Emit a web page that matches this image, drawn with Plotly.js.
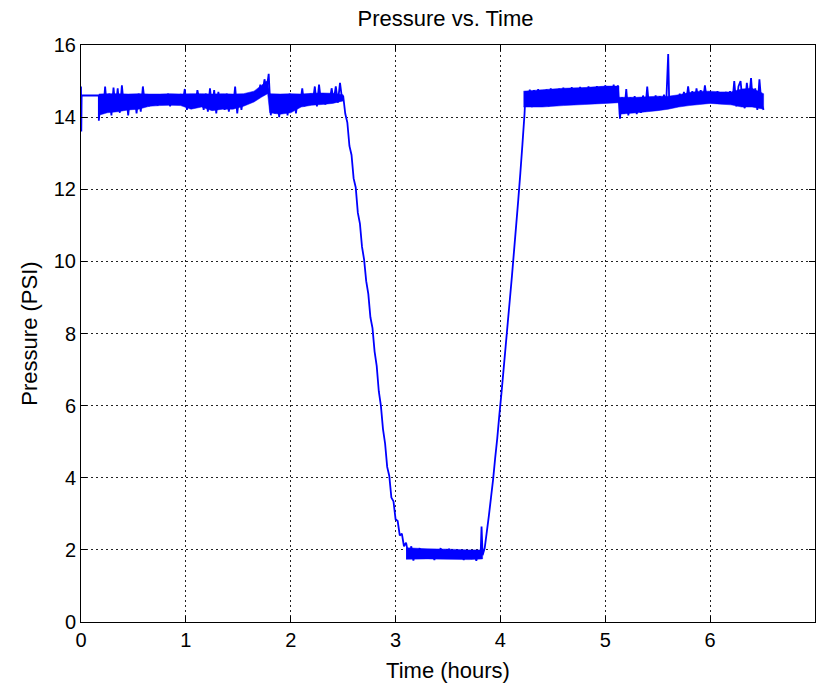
<!DOCTYPE html>
<html>
<head>
<meta charset="utf-8">
<script src="https://cdn.plot.ly/plotly-3.0.1.min.js"></script>
<style>html,body{margin:0;padding:0;background:#fff;}#chart{width:816px;height:688px;}</style>
</head>
<body>
<div id="chart"></div>
<script>
// ---- Data (time in hours, pressure in PSI) ----
// Individual samples (spikes, ramps, ragged edges)
var tStart = [0, 0.003, 0.006, 0.17];
var pStart = [14.85, 13.6, 14.6, 14.6];

var tHigh1 = [0.17,0.19,0.21,0.23,0.25,0.27,0.29,0.31,0.33,0.35,0.37,0.39,0.41,0.43,0.45,0.47,0.49,0.51,0.53,0.55,0.57,0.59,0.61,0.63,0.65,0.67,0.69,0.71,0.73,0.75,0.77,0.79,0.81,0.83,0.85,0.87,0.89,0.91,0.93,0.95,0.97,0.99,1.01,1.03,1.05,1.07,1.09,1.11,1.13,1.15,1.17,1.19,1.21,1.23,1.25,1.27,1.29,1.31,1.33,1.35,1.37,1.39,1.41,1.43,1.45,1.47,1.49,1.51,1.53,1.55,1.57,1.59,1.61,1.63,1.65,1.67,1.69,1.71,1.73,1.75,1.77,1.79,1.81,1.83,1.85,1.87,1.89,1.91,1.93,1.95,1.97,1.99,2.01,2.03,2.05,2.07,2.09,2.11,2.13,2.15,2.17,2.19,2.21,2.23,2.25,2.27,2.29,2.31,2.33,2.35,2.37,2.39,2.41,2.43,2.45,2.47,2.49];
var pHigh1 = [13.90,14.62,14.10,14.85,14.15,14.65,14.05,14.82,14.20,14.80,14.12,14.88,14.25,14.62,14.05,14.60,14.30,14.62,14.10,14.65,14.15,14.85,14.35,14.60,14.30,14.62,14.38,14.60,14.32,14.63,14.40,14.60,14.35,14.65,14.30,14.62,14.42,14.60,14.35,14.64,14.40,14.78,14.20,14.62,14.25,14.60,14.30,14.75,14.45,14.62,14.20,14.65,14.15,14.80,14.25,14.75,14.10,14.70,14.30,14.62,14.20,14.65,14.15,14.60,14.25,14.85,14.10,14.62,14.20,14.60,14.35,14.62,14.40,14.60,14.45,14.70,14.55,14.90,14.65,15.05,14.75,15.20,14.05,14.62,14.10,14.60,14.00,14.62,14.15,14.60,14.05,14.65,14.20,14.62,14.10,14.60,14.35,14.80,14.30,14.62,14.35,14.65,14.40,14.85,14.30,14.90,14.40,14.65,14.35,14.60,14.40,14.80,14.45,14.85,14.40,14.95,14.50];

var tDrop = [2.50,2.52,2.54,2.56,2.58,2.60,2.62,2.64,2.66,2.68,2.70,2.72,2.74,2.76,2.78,2.80,2.82,2.84,2.86,2.88,2.90,2.92,2.94,2.96,2.98,3.00,3.02,3.04,3.06,3.08,3.10];
var pDrop = [14.60,14.10,13.85,13.20,12.95,12.30,12.05,11.35,11.05,10.40,10.05,9.45,9.10,8.45,8.15,7.50,7.10,6.40,6.00,5.35,4.95,4.30,4.05,3.45,3.35,2.85,2.80,2.40,2.45,2.10,2.20];

var tLow = [3.11,3.13,3.15,3.17,3.19,3.21,3.23,3.25,3.27,3.29,3.31,3.33,3.35,3.37,3.39,3.41,3.43,3.45,3.47,3.49,3.51,3.53,3.55,3.57,3.59,3.61,3.63,3.65,3.67,3.69,3.71,3.73,3.75,3.77,3.79,3.81,3.82,3.83];
var pLow = [2.05,1.75,2.10,1.70,2.00,1.80,2.05,1.75,1.98,1.82,2.02,1.78,2.00,1.72,1.98,1.80,2.05,1.76,2.00,1.82,2.03,1.78,1.98,1.75,2.00,1.80,1.95,1.72,1.98,1.78,1.95,1.75,1.97,1.70,1.95,1.78,2.65,1.85];

var tRise = [3.85,3.87,3.89,3.91,3.93,3.95,3.97,3.99,4.01,4.03,4.05,4.07,4.09,4.11,4.13,4.15,4.17,4.19,4.21,4.23];
var pRise = [2.05,2.50,2.95,3.45,3.95,4.55,5.10,5.75,6.35,7.00,7.65,8.30,8.95,9.60,10.30,11.00,11.70,12.45,13.25,14.10];

var tHigh2 = [4.24,4.26,4.28,4.30,4.32,4.34,4.36,4.38,4.40,4.42,4.44,4.46,4.48,4.50,4.52,4.54,4.56,4.58,4.60,4.62,4.64,4.66,4.68,4.70,4.72,4.74,4.76,4.78,4.80,4.82,4.84,4.86,4.88,4.90,4.92,4.94,4.96,4.98,5.00,5.02,5.04,5.06,5.08,5.10,5.12];
var pHigh2 = [14.72,14.30,14.76,14.28,14.75,14.32,14.78,14.30,14.74,14.33,14.77,14.30,14.80,14.35,14.76,14.33,14.79,14.36,14.82,14.38,14.78,14.37,14.83,14.40,14.80,14.38,14.84,14.40,14.81,14.42,14.85,14.40,14.82,14.43,14.86,14.40,14.84,14.42,14.88,14.40,14.86,14.44,14.90,14.42,14.88];

var tHigh3 = [5.14,5.16,5.18,5.20,5.22,5.24,5.26,5.28,5.30,5.32,5.34,5.36,5.38,5.40,5.42,5.44,5.46,5.48,5.50,5.52,5.54,5.56,5.58,5.60,5.61,5.63,5.65,5.67,5.69,5.71,5.73,5.75,5.77,5.79,5.81,5.83,5.85,5.87,5.89,5.91,5.93,5.95,5.97,5.99,6.01,6.03,6.05,6.07,6.09,6.11,6.13,6.15,6.17,6.19,6.21,6.23,6.25,6.27,6.29,6.31,6.33,6.35,6.37,6.39,6.41,6.43,6.45,6.47,6.49,6.51];
var pHigh3 = [13.96,14.55,14.10,14.78,14.05,14.55,14.15,14.58,14.08,14.52,14.12,14.60,14.15,14.85,14.18,14.55,14.25,14.60,14.20,14.58,14.28,14.62,14.30,15.75,14.35,14.55,14.28,14.52,14.30,14.65,14.35,14.70,14.38,14.85,14.40,14.72,14.36,14.80,14.42,14.75,14.38,14.88,14.45,14.70,14.40,14.68,14.42,14.72,14.38,14.65,14.45,14.70,14.40,14.72,14.35,15.00,14.30,14.85,15.00,14.40,14.25,14.95,14.45,15.08,14.30,14.80,14.20,15.05,14.35,14.20];

// Dense core of the signal (where the samples overlap into a solid band): time, upper edge, lower edge
var tCore1 = [0.17,0.25,0.35,0.45,0.55,0.65,0.75,0.85,0.95,1.05,1.15,1.25,1.35,1.45,1.55,1.65,1.72,1.78,1.80,1.90,2.00,2.10,2.20,2.30,2.40,2.50];
var hiCore1 = [14.64,14.65,14.65,14.64,14.65,14.64,14.64,14.65,14.64,14.65,14.65,14.64,14.65,14.64,14.65,14.72,14.88,15.02,14.65,14.64,14.65,14.64,14.66,14.67,14.66,14.62];
var loCore1 = [14.05,14.12,14.15,14.20,14.22,14.30,14.32,14.33,14.32,14.22,14.28,14.18,14.22,14.22,14.30,14.42,14.55,14.65,14.12,14.08,14.12,14.28,14.33,14.35,14.38,14.45];

var tCore2 = [3.10,3.30,3.50,3.70,3.83];
var hiCore2 = [2.06,2.03,2.02,2.00,2.00];
var loCore2 = [1.74,1.75,1.74,1.73,1.75];

var tCore3 = [4.22,4.40,4.60,4.80,5.00,5.13];
var hiCore3 = [14.72,14.76,14.80,14.82,14.86,14.86];
var loCore3 = [14.28,14.28,14.32,14.35,14.38,14.40];

var tCore4 = [5.13,5.30,5.50,5.60,5.70,5.80,5.90,6.00,6.10,6.20,6.30,6.40,6.51];
var hiCore4 = [14.55,14.55,14.58,14.58,14.62,14.68,14.72,14.72,14.70,14.70,14.78,14.80,14.65];
var loCore4 = [14.08,14.12,14.18,14.22,14.28,14.32,14.35,14.38,14.36,14.34,14.28,14.28,14.22];

var xTickVals = [0,1,2,3,4,5,6,7];
var yTickVals = [0,2,4,6,8,10,12,14,16];

var timeHours = [].concat(tStart, tHigh1, tDrop, tLow, tRise, tHigh2, tHigh3);
var pressurePsi = [].concat(pStart, pHigh1, pDrop, pLow, pRise, pHigh2, pHigh3);

var BLUE = '#0000ff';
function coreTrace(t, hi, lo) {
  return {
    x: t.concat(t.slice().reverse()),
    y: hi.concat(lo.slice().reverse()),
    type: 'scatter', mode: 'lines', fill: 'toself', fillcolor: BLUE,
    line: {color: BLUE, width: 0.5, simplify: false}, hoverinfo: 'skip'
  };
}

var traces = [
  coreTrace(tCore1, hiCore1, loCore1),
  coreTrace(tCore2, hiCore2, loCore2),
  coreTrace(tCore3, hiCore3, loCore3),
  coreTrace(tCore4, hiCore4, loCore4),
  {
    x: timeHours, y: pressurePsi, type: 'scatter', mode: 'lines',
    line: {color: BLUE, width: 1.8, simplify: false}, hoverinfo: 'skip'
  }
];

var tickFont = {family: 'Liberation Sans, Arial, sans-serif', size: 20, color: '#000'};
var labelFont = {family: 'Liberation Sans, Arial, sans-serif', size: 22, color: '#000'};

var axisCommon = {
  showline: true, linecolor: '#000', linewidth: 1, mirror: 'ticks',
  ticks: 'inside', ticklen: 6, tickwidth: 1, tickcolor: '#000',
  showgrid: true, gridcolor: '#222', gridwidth: 1, griddash: '1.5px,3.5px',
  zeroline: false, tickfont: tickFont, fixedrange: true
};

var layout = {
  width: 816, height: 688,
  margin: {l: 81, r: 1, t: 45, b: 66},
  paper_bgcolor: '#fff', plot_bgcolor: '#fff',
  showlegend: false,
  title: {text: 'Pressure vs. Time', font: labelFont, x: 0.546, xanchor: 'center', y: 0.974, yanchor: 'middle', yref: 'container'},
  xaxis: Object.assign({}, axisCommon, {range: [0, 7], tickvals: xTickVals, ticktext: xTickVals.map(String),
    title: {text: 'Time (hours)', font: labelFont, standoff: 12}}),
  yaxis: Object.assign({}, axisCommon, {range: [0, 16], tickvals: yTickVals, ticktext: yTickVals.map(String),
    title: {text: 'Pressure (PSI)', font: labelFont, standoff: 10}})
};

Plotly.newPlot('chart', traces, layout, {displayModeBar: false, staticPlot: true});
</script>
</body>
</html>
